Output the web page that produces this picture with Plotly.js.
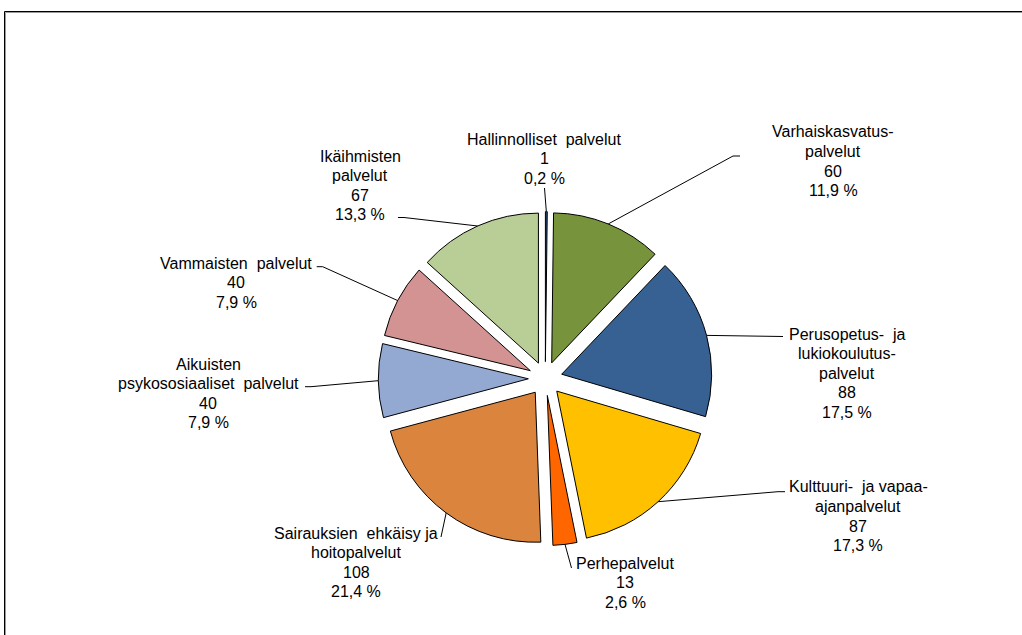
<!DOCTYPE html>
<html>
<head>
<meta charset="utf-8">
<script src="https://cdn.plot.ly/plotly-3.0.1.min.js"></script>
<style>html,body{margin:0;padding:0;background:#fff;}#chart{width:1022px;height:635px;}</style>
</head>
<body>
<div id="chart"></div>
<script>
// ---- data ----
var categories = [
  "Hallinnolliset palvelut",
  "Varhaiskasvatus-palvelut",
  "Perusopetus- ja lukiokoulutus-palvelut",
  "Kulttuuri- ja vapaa-ajanpalvelut",
  "Perhepalvelut",
  "Sairauksien ehkäisy ja hoitopalvelut",
  "Aikuisten psykososiaaliset palvelut",
  "Vammaisten palvelut",
  "Ikäihmisten palvelut"
];
var values = [1, 60, 88, 87, 13, 108, 40, 40, 67];
// label name lines as shown in the chart
var labelLines = [
  ["Hallinnolliset\u00a0 palvelut"],
  ["Varhaiskasvatus-", "palvelut"],
  ["Perusopetus-\u00a0 ja", "lukiokoulutus-", "palvelut"],
  ["Kulttuuri-\u00a0 ja vapaa-", "ajanpalvelut"],
  ["Perhepalvelut"],
  ["Sairauksien\u00a0 ehkäisy ja", "hoitopalvelut"],
  ["Aikuisten", "psykososiaaliset\u00a0 palvelut"],
  ["Vammaisten\u00a0 palvelut"],
  ["Ikäihmisten", "palvelut"]
];
var colors = ["#2b4a7a", "#77933C", "#376193", "#FFC000", "#FF6600", "#DB843D", "#93A9D1", "#D49393", "#B9CD96"];

// ---- layout (pixel positions of labels & leader ends) ----
var W = 1022, H = 635;
var labelX = [544, 833, 847, 858, 625, 356, 208, 236, 360];
var labelY0 = [139, 132, 334, 487, 563, 533, 364, 263, 156];
var lineGap = 19.5;
var leaderEnd = [[544.5, 188], [740, 156], [783, 336.5], [785, 491.7], [571.5, 568], [441, 537], [305, 386.7], [316.7, 266.7], [398, 217.5]];
var leaderTick = [0, -7, 0, -7, 0, 0, 6, 6, 6];
var PULL = 0.113;
var CX = 545.3, CY = 378.6, HALF = 150 * (1 + PULL);

function px(x) { return x / W; }
function py(y) { return 1 - y / H; }

var total = values.reduce(function (a, b) { return a + b; }, 0);
var font = {family: "Liberation Sans, Arial, sans-serif", size: 16, color: "#000"};

var annotations = [];
labelLines.forEach(function (lines, i) {
  var pct = (values[i] / total * 100).toFixed(1).replace(".", ",") + " %";
  var all = lines.concat([String(values[i]), pct]);
  all.forEach(function (t, k) {
    annotations.push({
      xref: "paper", yref: "paper", x: px(labelX[i]), y: py(labelY0[i] + k * lineGap),
      text: t, showarrow: false, xanchor: "center", yanchor: "middle", font: font
    });
  });
});

var frameShapes = [
  {type: "rect", xref: "paper", yref: "paper", x0: px(4.5), y0: -0.05, x1: 1.05, y1: py(11.5), line: {color: "#000", width: 1}},
  {type: "rect", xref: "paper", yref: "paper", x0: px(5.5), y0: -0.05, x1: 1.05, y1: py(12.5), line: {color: "#9a9a9a", width: 1}}
];

var data = [{
  type: "pie",
  labels: categories,
  values: values,
  sort: false,
  direction: "clockwise",
  rotation: 0,
  pull: PULL,
  marker: {colors: colors, line: {color: "#000", width: 1}},
  textinfo: "none",
  hoverinfo: "none",
  showlegend: false,
  domain: {x: [px(CX - HALF), px(CX + HALF)], y: [py(CY + HALF), py(CY - HALF)]}
}];

var layout = {
  width: W, height: H,
  margin: {l: 0, r: 0, t: 0, b: 0},
  paper_bgcolor: "#fff", plot_bgcolor: "#fff",
  showlegend: false,
  annotations: annotations,
  shapes: frameShapes
};

var gd = document.getElementById("chart");
Plotly.newPlot(gd, data, layout, {staticPlot: true, displayModeBar: false}).then(function () {
  var shapes = frameShapes.slice();
  var cd = gd.calcdata && gd.calcdata[0];
  var cx = CX, cy = CY, r = HALF / (1 + PULL);
  if (cd && cd[0] && cd[0].cx !== undefined) { cx = cd[0].cx; cy = cd[0].cy; r = cd[0].r; }
  var cum = 0;
  values.forEach(function (v, i) {
    var mid;
    if (cd && cd[i] && cd[i].pxmid) {
      var ax = cx + (1 + PULL) * cd[i].pxmid[0];
      var ay = cy + (1 + PULL) * cd[i].pxmid[1];
    } else {
      mid = (cum + v / 2) / total * 2 * Math.PI;
      var ax = cx + (1 + PULL) * r * Math.sin(mid);
      var ay = cy - (1 + PULL) * r * Math.cos(mid);
    }
    cum += v;
    var e = leaderEnd[i];
    var path = "M" + px(e[0]) + "," + py(e[1]);
    if (leaderTick[i]) path += " L" + px(e[0] + leaderTick[i]) + "," + py(e[1]);
    path += " L" + px(ax) + "," + py(ay);
    shapes.push({type: "path", xref: "paper", yref: "paper", path: path, line: {color: "#000", width: 1}});
  });
  return Plotly.relayout(gd, {shapes: shapes});
});
</script>
</body>
</html>
